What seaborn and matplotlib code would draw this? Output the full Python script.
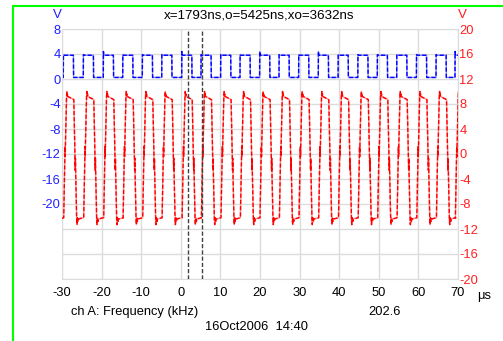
#!/usr/bin/env python3
"""
Scope capture: ch B square wave (blue, left axis) and ch A drive (red, right axis)
with the two time cursors x/o.
"""

import pandas as pd
import matplotlib
matplotlib.use('Agg')
import matplotlib.pyplot as plt
from matplotlib.patches import Rectangle
import seaborn as sns

# ---- axes / labels ----
x_ticks = [-30, -20, -10, 0, 10, 20, 30, 40, 50, 60, 70]
x_labels = ['-30', '-20', '-10', '0', '10', '20', '30', '40', '50', '60', '70']
left_ticks = [8, 4, 0, -4, -8, -12, -16, -20, -24, -28, -32]
left_labels = ['8', '4', '0', '-4', '-8', '-12', '-16', '-20', '', '', '']
right_ticks = [20, 16, 12, 8, 4, 0, -4, -8, -12, -16, -20]
right_labels = ['20', '16', '12', '8', '4', '0', '-4', '-8', '-12', '-16', '-20']

title_txt = 'x=1793ns,o=5425ns,xo=3632ns'
meas_name = 'ch A: Frequency (kHz)'
meas_value = '202.6'
stamp_txt = '16Oct2006  14:40'

# cursors (us)
cursor_x_us = 1.793
cursor_o_us = 5.425

# ---- blue trace: rising edge times (us) ----
blue_rise_us = [-29.67, -24.62, -19.57, -14.67, -9.72, -4.82, 0.23, 5.10,
                10.05, 14.95, 19.90, 24.80, 29.75, 34.72, 39.72, 44.70,
                49.62, 54.52, 59.50, 64.45, 69.24]
# overshoot at the top of each rising edge (V)
blue_peak_v = [3.9, 3.9, 4.4, 3.9, 3.9, 3.9, 4.4, 3.9, 3.9, 3.9, 4.4,
               3.9, 3.9, 4.4, 3.9, 3.9, 3.9, 3.9, 3.9, 3.9, 4.4]
blue_high_v = 3.8
blue_low_v = 0.25
blue_width_us = 2.55

# ---- red trace: one pulse, offsets from its rising edge ----
red_delay_us = 0.1
red_shape_dt = [0.00, 0.30, 0.34, 0.38, 0.42, 0.72, 0.80, 0.88, 0.96, 1.05,
                2.55, 2.88, 2.92, 2.96, 3.00, 3.28, 3.36, 3.46, 3.60, 3.75, 4.90]
red_shape_v = [-10.2, -0.5, 1.2, -0.4, 1.0, 9.2, 10.0, 9.3, 9.6, 9.2,
               8.7, -0.8, -2.6, -0.7, -2.3, -10.6, -11.3, -10.2, -10.8, -10.4, -10.2]
red_start_v = -10.3

# build the traces from the readings
bt, bv = [-30.0], [blue_low_v]
for r, pk in zip(blue_rise_us, blue_peak_v):
    bt += [r, r + 0.03, r + 0.12, r + blue_width_us, r + blue_width_us + 0.05]
    bv += [blue_low_v, pk, blue_high_v, blue_high_v, blue_low_v]
blue_df = pd.DataFrame({'t': bt, 'v': bv})

rt, rv = [-30.0], [red_start_v]
for r in blue_rise_us:
    for dt, v in zip(red_shape_dt, red_shape_v):
        rt.append(r + red_delay_us + dt)
        rv.append(v)
red_df = pd.DataFrame({'t': rt, 'v': rv})

# ---- style ----
sns.set_style('white')
plt.rcParams['font.family'] = ['Liberation Sans', 'DejaVu Sans']
plt.rcParams['font.size'] = 9.3

fig = plt.figure(figsize=(5.03, 3.41), dpi=100)
ax = fig.add_axes([62 / 503, 1 - 279 / 341, 396 / 503, 250 / 341])
ax2 = ax.twinx()

grid_c = '#dcdcdc'
ax.set_xlim(-30, 70)
ax.set_ylim(-32, 8)
ax2.set_ylim(-20, 20)
ax.set_xticks(x_ticks, x_labels)
ax.set_yticks(left_ticks, left_labels)
ax2.set_yticks(right_ticks, right_labels)
ax.grid(True, color=grid_c, lw=1)
ax.tick_params(axis='x', length=0, pad=5.5, colors='black', labelsize=9.3)
ax.tick_params(axis='y', length=0, pad=1, colors='#2020ff', labelsize=9.3)
ax2.tick_params(axis='y', length=0, pad=1, colors='#ff2020', labelsize=9.3)
for s in ax.spines.values():
    s.set_color(grid_c)
for s in ax2.spines.values():
    s.set_visible(False)

# traces: light base line + darker dashes on top, like the scope render
sns.lineplot(data=blue_df, x='t', y='v', ax=ax, sort=False, estimator=None,
             color='#8c8cff', lw=1.0)
sns.lineplot(data=blue_df, x='t', y='v', ax=ax, sort=False, estimator=None,
             color='#0000ff', lw=1.0, linestyle=(0, (3, 1.5)))
sns.lineplot(data=red_df, x='t', y='v', ax=ax2, sort=False, estimator=None,
             color='#ff9090', lw=1.0)
sns.lineplot(data=red_df, x='t', y='v', ax=ax2, sort=False, estimator=None,
             color='#ff0000', lw=1.0, linestyle=(0, (3, 1.5)))
ax.set_xlabel('')
ax.set_ylabel('')
ax2.set_xlabel('')
ax2.set_ylabel('')

for cx in (cursor_x_us, cursor_o_us):
    ax2.axvline(cx, color='#404040', lw=1.0, linestyle=(0, (3, 1.5)), zorder=5)

# texts around the plot
fig.text(259 / 503, 1 - 18.3 / 341, title_txt, ha='center', va='baseline',
         fontsize=9.6, color='black')
fig.text(57.5 / 503, 1 - 17.5 / 341, 'V', ha='center', va='baseline',
         fontsize=9.6, color='#2020ff')
fig.text(462.5 / 503, 1 - 18 / 341, 'V', ha='center', va='baseline',
         fontsize=9.6, color='#ff2020')
fig.text(476.7 / 503, 1 - 299.3 / 341, 'μs', ha='left', va='baseline',
         fontsize=9.3, color='black')
fig.text(71 / 503, 1 - 315 / 341, meas_name, ha='left', va='baseline',
         fontsize=9.3, color='black')
fig.text(368.3 / 503, 1 - 315 / 341, meas_value, ha='left', va='baseline',
         fontsize=9.3, color='black')
fig.text(205 / 503, 1 - 330 / 341, stamp_txt, ha='left', va='baseline',
         fontsize=9.3, color='black')

# green frame (only top and left edges fall inside the picture)
fig.patches.append(Rectangle((13 / 503, -0.2), 1.3, 1.2 - 6 / 341,
                             transform=fig.transFigure, fill=False,
                             edgecolor='#00ff00', lw=1.5, clip_on=False))

fig.savefig('out.png', dpi=100)
